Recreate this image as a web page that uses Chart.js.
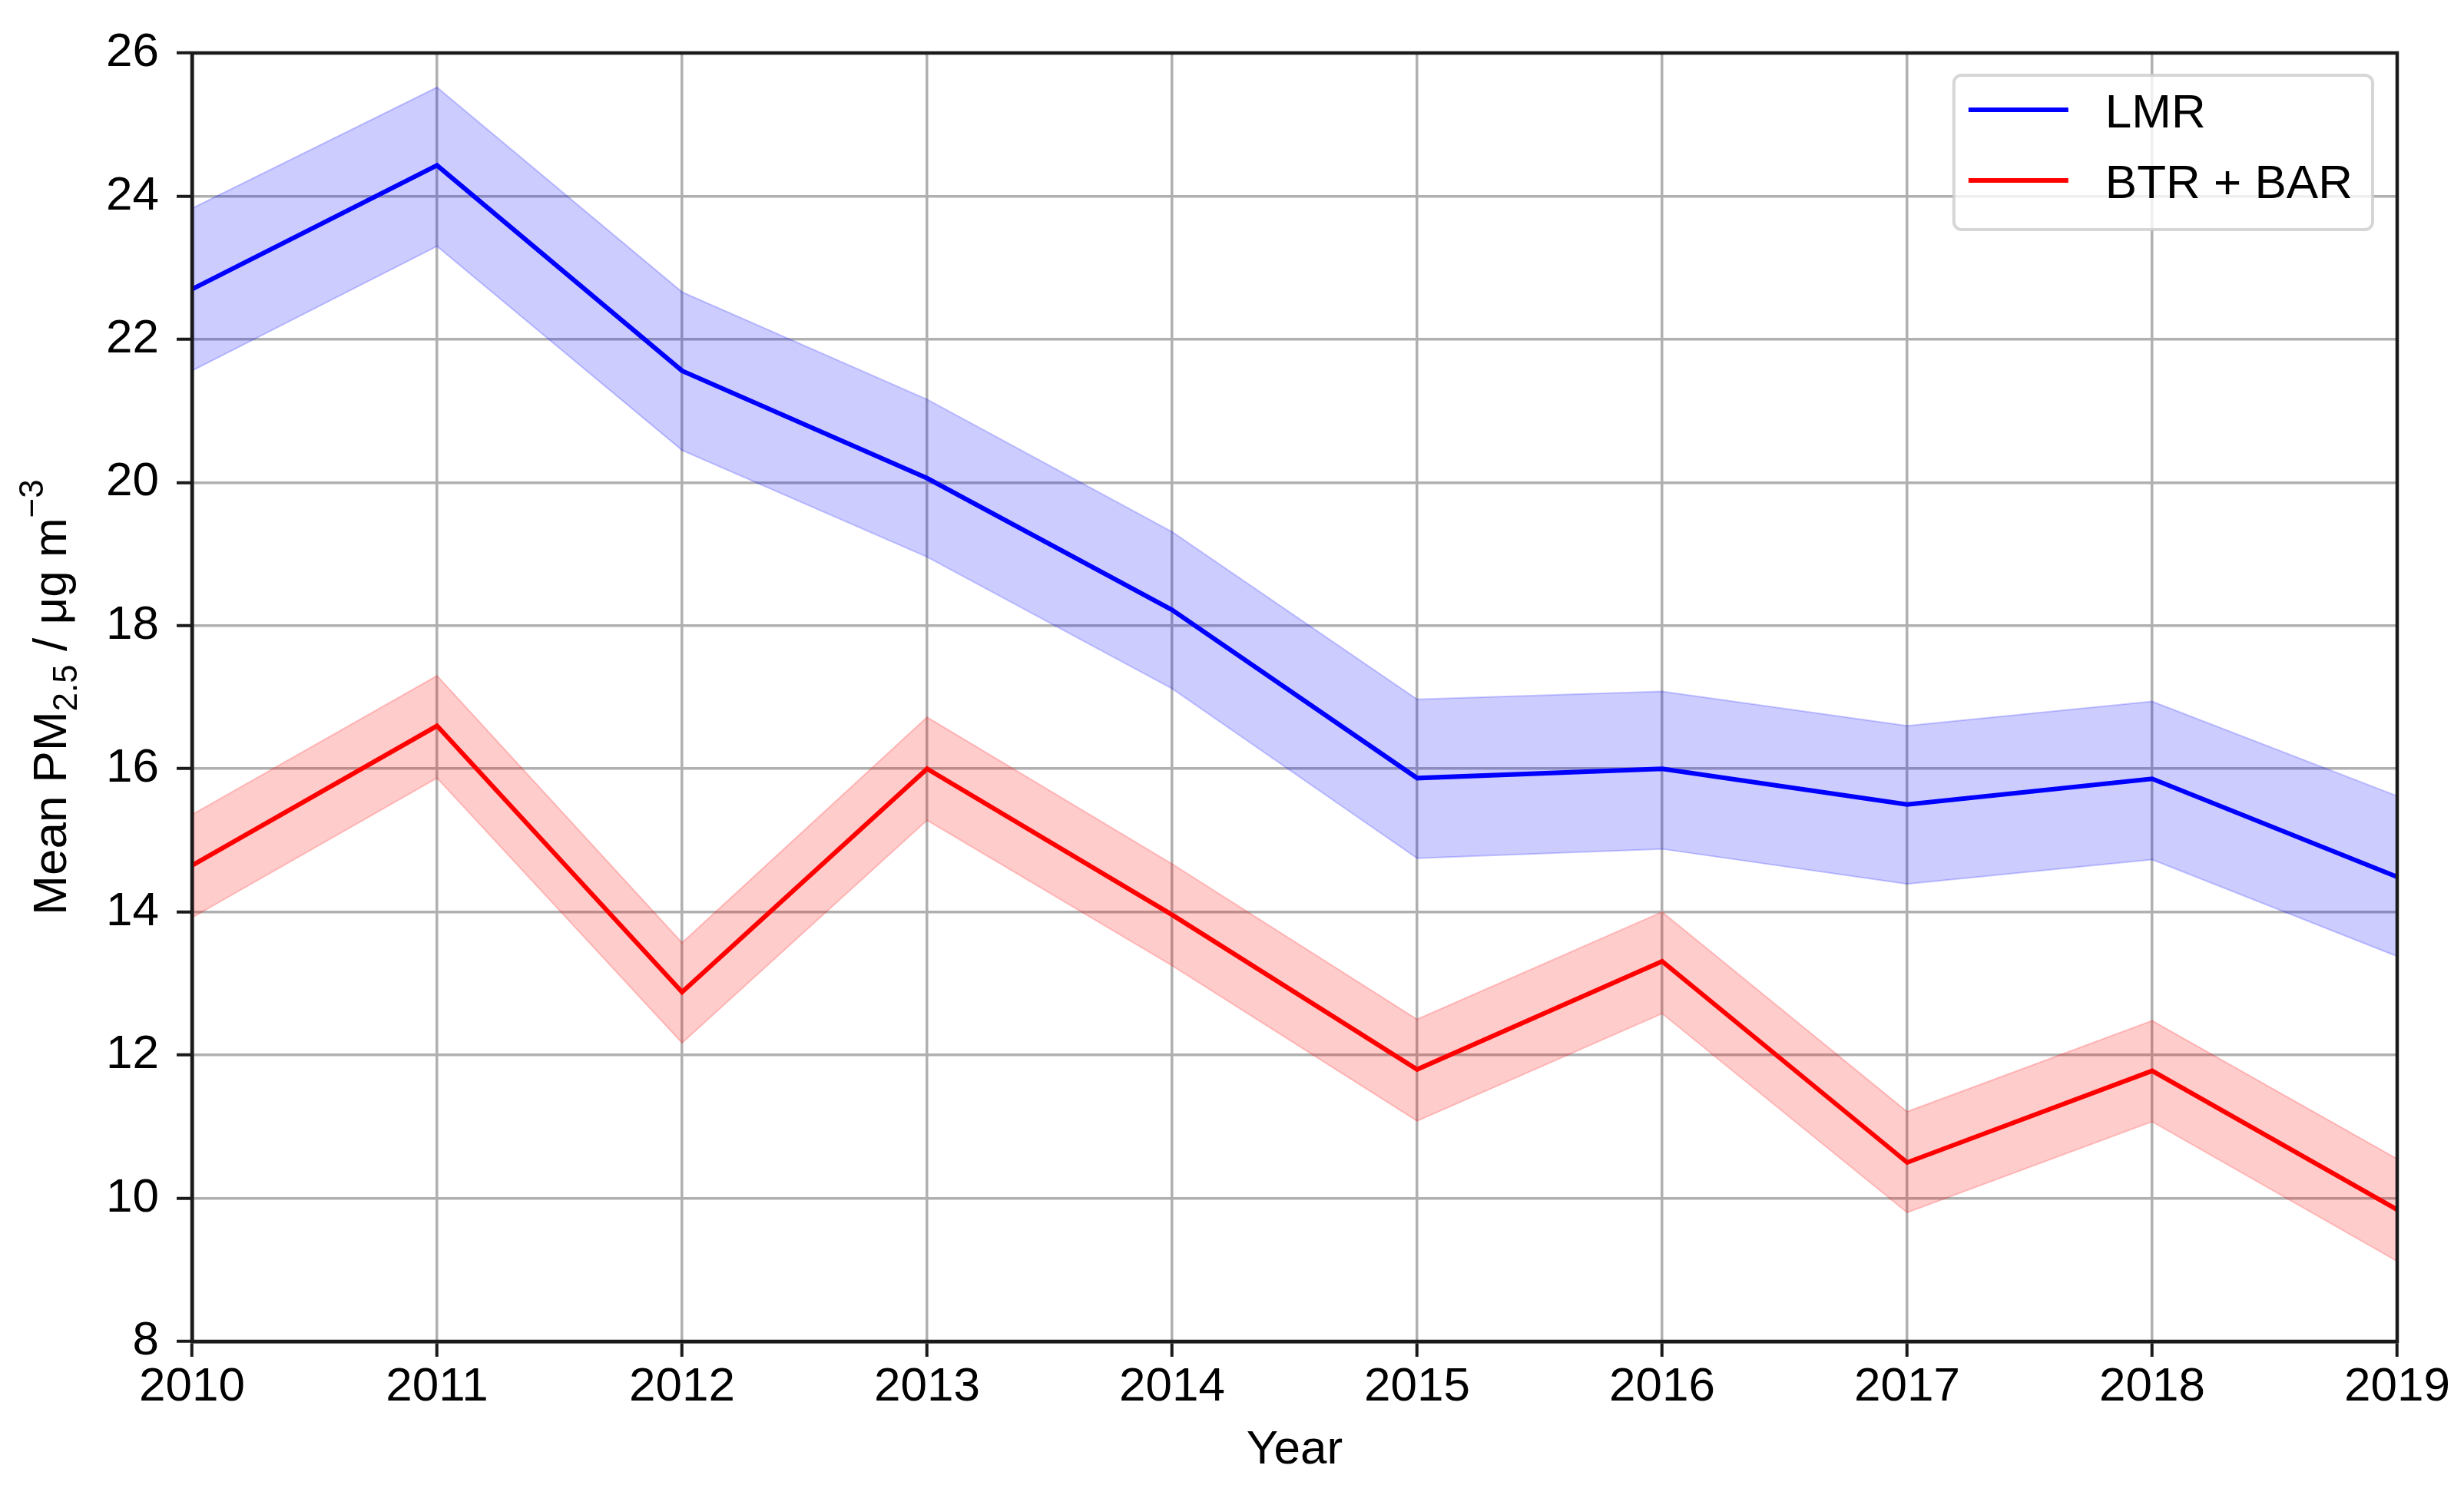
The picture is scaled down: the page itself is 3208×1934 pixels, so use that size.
<!DOCTYPE html>
<html>
<head>
<meta charset="utf-8">
<script src="https://cdn.jsdelivr.net/npm/chart.js@4.4.1/dist/chart.umd.min.js"></script>
<style>
  html, body { margin: 0; padding: 0; background: #fff; }
  #wrap { width: 3208px; height: 1934px; }
</style>
</head>
<body>
<div id="wrap"><canvas id="chart" width="3208" height="1934"></canvas></div>
<script>
const years = ["2010", "2011", "2012", "2013", "2014", "2015", "2016", "2017", "2018", "2019"]

// LMR mean and its shaded range
const lmrMean = [22.70, 24.43, 21.56, 20.06, 18.22, 15.87, 16.00, 15.50, 15.86, 14.49]
const lmrLow  = [21.56, 23.30, 20.45, 18.96, 17.12, 14.75, 14.88, 14.39, 14.73, 13.38]
const lmrHigh = [23.83, 25.52, 22.66, 21.16, 19.31, 16.97, 17.08, 16.60, 16.94, 15.62]

// BTR + BAR mean and its shaded range
const btrMean = [14.65, 16.60, 12.88, 16.00, 13.96, 11.80, 13.31, 10.50, 11.78, 9.84]
const btrLow  = [13.92, 15.87, 12.17, 15.28, 13.25, 11.08, 12.58, 9.80, 11.07, 9.12]
const btrHigh = [15.36, 17.30, 13.57, 16.72, 14.67, 12.50, 14.00, 11.21, 12.48, 10.55]

const yTicks = [8, 10, 12, 14, 16, 18, 20, 22, 24, 26]

const FONT = "'Liberation Sans', Arial, Helvetica, sans-serif"
const FSIZE = 62
const SPINE = "#1a1a1a"

// matplotlib draws a full box around the axes
const spines = {
  id: "spines",
  afterDatasetsDraw(chart) {
    const { ctx, chartArea: a } = chart
    ctx.save()
    ctx.strokeStyle = SPINE
    ctx.lineWidth = 4.5
    ctx.strokeRect(a.left, a.top, a.right - a.left, a.bottom - a.top)
    ctx.restore()
  }
}

// legend box in the upper right corner of the plot
const legendBox = {
  id: "legendBox",
  afterDraw(chart) {
    const { ctx, chartArea: a } = chart
    const items = chart.data.datasets.filter(d => d.inLegend)
    ctx.save()
    ctx.font = `${FSIZE}px ${FONT}`
    const textW = Math.max(...items.map(d => ctx.measureText(d.label).width))
    const padL = 19, lineLen = 130, gap = 48, padR = 26
    const w = padL + lineLen + gap + textW + padR
    const h = 201
    const x = a.right - 32 - w
    const y = a.top + 29
    ctx.beginPath()
    ctx.roundRect(x, y, w, h, 10)
    ctx.fillStyle = "rgba(255,255,255,0.8)"
    ctx.fill()
    ctx.strokeStyle = "rgba(204,204,204,0.8)"
    ctx.lineWidth = 4
    ctx.stroke()
    items.forEach((d, i) => {
      const cy = y + 45 + i * 92
      ctx.strokeStyle = d.borderColor
      ctx.lineWidth = 6
      ctx.beginPath()
      ctx.moveTo(x + padL, cy)
      ctx.lineTo(x + padL + lineLen, cy)
      ctx.stroke()
      ctx.fillStyle = "#000"
      ctx.textBaseline = "alphabetic"
      ctx.textAlign = "left"
      ctx.fillText(d.label, x + padL + lineLen + gap, cy + 23)
    })
    ctx.restore()
  }
}

// rotated y label with sub- and superscript
const yLabel = {
  id: "yLabel",
  afterDraw(chart) {
    const { ctx, chartArea: a } = chart
    const big = `${FSIZE}px ${FONT}`, small = `44px ${FONT}`
    const parts = [
      { t: "Mean PM", f: big, dy: 0 },
      { t: "2.5", f: small, dy: 14 },
      { t: " / \u03bcg m", f: big, dy: 0 },
      { t: "\u22123", f: small, dy: -30 }
    ]
    ctx.save()
    let total = 0
    parts.forEach(p => { ctx.font = p.f; p.w = ctx.measureText(p.t).width; total += p.w })
    ctx.translate(86, (a.top + a.bottom) / 2)
    ctx.rotate(-Math.PI / 2)
    ctx.fillStyle = "#000"
    ctx.textBaseline = "alphabetic"
    ctx.textAlign = "left"
    let cx = -total / 2
    parts.forEach(p => {
      ctx.font = p.f
      ctx.fillText(p.t, cx, p.dy)
      cx += p.w
    })
    ctx.restore()
  }
}

const band = (label, low, high, rgb) => [
  {
    label: label + " upper",
    data: high,
    borderColor: `rgba(${rgb},0.2)`,
    backgroundColor: `rgba(${rgb},0.2)`,
    borderWidth: 2,
    pointRadius: 0,
    fill: "+1",
    tension: 0
  },
  {
    label: label + " lower",
    data: low,
    borderColor: `rgba(${rgb},0.2)`,
    backgroundColor: "transparent",
    borderWidth: 2,
    pointRadius: 0,
    fill: false,
    tension: 0
  }
]

new Chart(document.getElementById("chart"), {
  type: "line",
  data: {
    labels: years,
    datasets: [
      ...band("LMR", lmrLow, lmrHigh, "0,0,255"),
      ...band("BTR + BAR", btrLow, btrHigh, "255,0,0"),
      {
        label: "LMR",
        data: lmrMean,
        borderColor: "#0000ff",
        borderWidth: 6,
        pointRadius: 0,
        fill: false,
        tension: 0,
        inLegend: true
      },
      {
        label: "BTR + BAR",
        data: btrMean,
        borderColor: "#ff0000",
        borderWidth: 6,
        pointRadius: 0,
        fill: false,
        tension: 0,
        inLegend: true
      }
    ]
  },
  options: {
    responsive: false,
    devicePixelRatio: 1,
    animation: false,
    layout: { padding: { top: 69, right: 87, left: 0, bottom: 0 } },
    plugins: {
      legend: { display: false },
      tooltip: { enabled: false }
    },
    scales: {
      x: {
        type: "category",
        offset: false,
        afterFit: s => { s.height = 187 },
        grid: {
          color: "#b0b0b0",
          lineWidth: 3.5,
          drawTicks: true,
          tickLength: 20,
          tickColor: SPINE,
          tickWidth: 4
        },
        border: { display: true, color: SPINE, width: 4.5 },
        ticks: {
          autoSkip: false,
          maxRotation: 0,
          padding: 3,
          color: "#000",
          font: { family: FONT, size: FSIZE }
        },
        title: {
          display: true,
          text: "Year",
          color: "#000",
          font: { family: FONT, size: FSIZE },
          padding: { top: 0, bottom: 8 }
        }
      },
      y: {
        min: yTicks[0],
        max: yTicks[yTicks.length - 1],
        afterFit: s => { s.width = 250 },
        afterBuildTicks: s => { s.ticks = yTicks.map(v => ({ value: v })) },
        grid: {
          color: "#b0b0b0",
          lineWidth: 3.5,
          drawTicks: true,
          tickLength: 20,
          tickColor: SPINE,
          tickWidth: 4
        },
        border: { display: true, color: SPINE, width: 4.5 },
        ticks: {
          padding: 23,
          color: "#000",
          font: { family: FONT, size: FSIZE }
        }
      }
    }
  },
  plugins: [spines, legendBox, yLabel]
})
</script>
</body>
</html>
